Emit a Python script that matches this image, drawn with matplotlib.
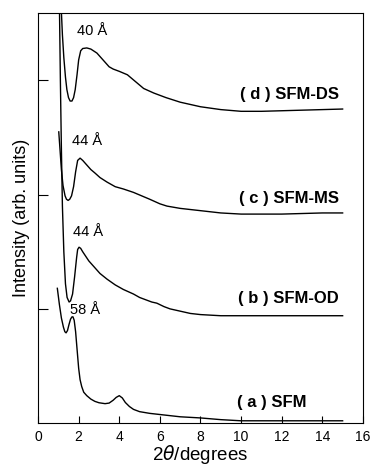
import matplotlib
matplotlib.use("Agg")
import matplotlib.pyplot as plt

plt.rcParams['font.family'] = ['Liberation Sans', 'DejaVu Sans']

# curve (a) SFM
xa = [0.95, 1.05, 1.15, 1.25, 1.32, 1.38, 1.45, 1.52, 1.6, 1.67, 1.72, 1.78, 1.85, 1.92, 2.0,
      2.07, 2.15, 2.25, 2.4, 2.6, 2.8, 3.0, 3.3, 3.5, 3.7, 3.85, 4.0, 4.15, 4.3, 4.5, 4.7, 5.0,
      5.5, 6, 6.5, 7, 7.5, 8, 9, 10, 12, 15]
ya = [1.18, 1.04, 0.92, 0.84, 0.8, 0.79, 0.81, 0.86, 0.91, 0.93, 0.93, 0.9, 0.8, 0.65, 0.48,
      0.38, 0.32, 0.27, 0.24, 0.21, 0.19, 0.178, 0.17, 0.175, 0.2, 0.225, 0.24, 0.22, 0.18, 0.145,
      0.12, 0.1, 0.085, 0.075, 0.065, 0.055, 0.05, 0.045, 0.03, 0.02, 0.02, 0.02]

# curve (b) SFM-OD
xb = [1.05, 1.1, 1.15, 1.2, 1.27, 1.35, 1.43, 1.53, 1.6, 1.7, 1.8, 1.9, 1.95, 2.02, 2.1, 2.2,
      2.35, 2.5, 2.75, 3.05, 3.4, 3.8, 4.2, 4.7, 5.0, 5.3, 5.6, 5.85, 6.2, 6.5, 7, 7.5, 8, 9, 10,
      12, 15]
yb = [3.7, 3.0, 2.4, 1.9, 1.5, 1.22, 1.1, 1.06, 1.07, 1.13, 1.28, 1.45, 1.52, 1.54, 1.53, 1.5,
      1.46, 1.42, 1.37, 1.31, 1.26, 1.21, 1.17, 1.13, 1.1, 1.08, 1.06, 1.05, 1.02, 1.0, 0.98,
      0.96, 0.95, 0.94, 0.94, 0.94, 0.94]

# curve (c) SFM-MS
xc = [1.02, 1.08, 1.15, 1.23, 1.33, 1.4, 1.48, 1.56, 1.65, 1.75, 1.85, 1.95, 2.07, 2.2, 2.4,
      2.6, 2.8, 3.05, 3.4, 3.8, 4.2, 4.7, 5.1, 5.5, 6, 6.35, 7, 7.5, 8, 9, 10, 11, 12, 13, 14, 15]
yc = [2.55, 2.4, 2.22, 2.08, 1.99, 1.96, 1.95, 1.96, 1.99, 2.07, 2.2, 2.3, 2.32, 2.3, 2.26,
      2.22, 2.19, 2.15, 2.11, 2.07, 2.05, 2.02, 1.99, 1.96, 1.92, 1.9, 1.88, 1.87, 1.86, 1.84,
      1.83, 1.83, 1.83, 1.835, 1.84, 1.84]

# curve (d) SFM-DS
xd = [1.1, 1.15, 1.2, 1.27, 1.35, 1.42, 1.5, 1.58, 1.67, 1.75, 1.83, 1.92, 2.0, 2.1, 2.2, 2.4,
      2.6, 2.9, 3.1, 3.3, 3.5, 3.7, 4.0, 4.4, 4.8, 5.2, 5.7, 6.3, 7, 8, 9, 10, 11, 12, 13, 14, 15]
yd = [3.8, 3.6, 3.4, 3.2, 3.03, 2.92, 2.85, 2.82, 2.82, 2.85, 2.92, 3.05, 3.18, 3.26, 3.28,
      3.285, 3.275, 3.24, 3.2, 3.16, 3.12, 3.1, 3.08, 3.05, 2.99, 2.93, 2.89, 2.85, 2.81, 2.77,
      2.745, 2.73, 2.73, 2.735, 2.74, 2.745, 2.75]

peak_labels = ['40 Å', '44 Å', '44 Å', '58 Å']
peak_pos = [(2.65, 3.43), (2.4, 2.47), (2.45, 1.67), (2.3, 0.99)]
names = ['( d ) SFM-DS', '( c ) SFM-MS', '( b ) SFM-OD', '( a ) SFM']
name_pos = [(14.8, 2.88), (14.8, 1.97), (14.8, 1.09), (13.2, 0.18)]

fig = plt.figure(figsize=(3.73, 4.68), dpi=100)
ax = fig.add_axes([0.102, 0.096, 0.871, 0.876])

for x, y in [(xa, ya), (xb, yb), (xc, yc), (xd, yd)]:
    ax.plot(x, y, color='black', lw=1.0)

for t, (px, py) in zip(peak_labels, peak_pos):
    ax.text(px, py, t, fontsize=10.5, ha='center', va='center')
for t, (px, py) in zip(names, name_pos):
    ax.text(px, py, t, fontsize=12, fontweight='bold', ha='right', va='center')

ax.set_xlim(0, 16)
ax.set_ylim(0, 3.59)
ax.set_xticks(range(0, 17, 2))
ax.set_yticks([1, 2, 3])
ax.set_yticklabels([])
ax.tick_params(axis='x', direction='in', length=5, labelsize=10, pad=5)
ax.tick_params(axis='y', direction='in', length=7)
ax.set_xlabel(r'2$\theta$/degrees', fontsize=13.5, labelpad=-1)
ax.set_ylabel('Intensity (arb. units)', fontsize=13, labelpad=2)

fig.savefig('out.png', dpi=100)
